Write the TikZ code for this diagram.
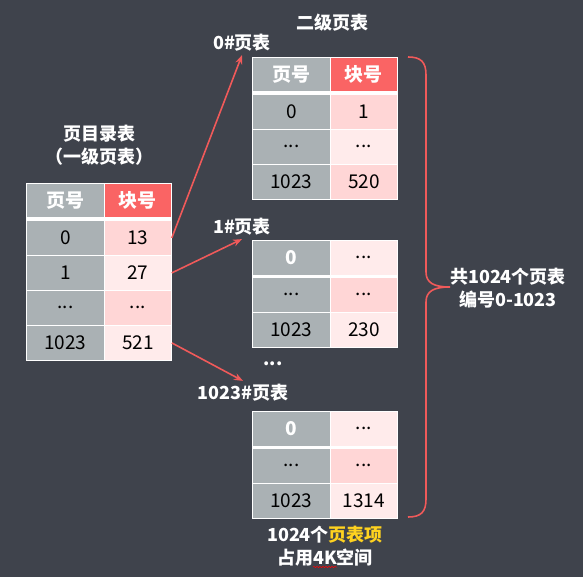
\documentclass[tikz,border=0pt]{standalone}
\usepackage{fontspec}
\setmainfont{Noto Sans CJK SC}
\usepackage{tikz}
\usetikzlibrary{arrows.meta,decorations.pathmorphing}

\definecolor{bgdark}{HTML}{3F434C}
\definecolor{tgray}{HTML}{AAB1B4}
\definecolor{hred}{HTML}{FA6464}
\definecolor{pinkD}{HTML}{FFD6D6}
\definecolor{pinkL}{HTML}{FFEBEB}
\definecolor{linkred}{HTML}{F05A5A}
\definecolor{hilite}{HTML}{FFD21F}

\newcommand{\rowdots}{...}
\newcommand{\pgtext}{\fontsize{18}{23}\selectfont}
\newcommand{\pgcell}{\fontsize{19}{23}\selectfont}

\begin{document}
\begin{tikzpicture}
        [%%%%%%%%%%%%%%%%%%%%%%%%%%%%%%
        x=1pt, y=-1pt,
        cell/.style={draw=white, line width=.8pt, anchor=north west, minimum height=35pt, inner sep=0pt, font=\pgcell, text=black},
        pcell/.style={cell, minimum width=78pt, fill=tgray},
        bcell/.style={cell, minimum width=67pt},
        headcell/.style={text=white, font=\pgcell\bfseries},
        seprule/.style={draw=white, line width=3pt},
        tlabel/.style={text=white, font=\pgtext\bfseries, align=center},
        link/.style={draw=linkred, line width=1.6pt, -{Stealth[length=9pt,width=7pt]}},
        brace/.style={draw=linkred, line width=1.6pt},
        ]%%%%%%%%%%%%%%%%%%%%%%%%%%%%%%
        \path[fill=bgdark, use as bounding box] (0,0) rectangle (583,577);
        % Page directory (first level)
        \node[tlabel] (dir-title) at (99,145) {页目录表\\（一级页表）};
        \node[pcell, headcell] (dir-a0) at (26,183) {页号};
        \node[bcell, headcell, fill=hred] (dir-b0) at (104,183) {块号};
        \foreach \p/\b/\c [count=\i] in {0/13/pinkD, 1/27/pinkL, \rowdots/\rowdots/pinkD, 1023/521/pinkL}{
          \node[pcell] (dir-a\i) at (26,185+35*\i) {\p};
          \node[bcell, fill=\c] (dir-b\i) at (104,185+35*\i) {\b};
        }
        \draw[seprule] ([yshift=1pt]dir-a1.north west) -- ([yshift=1pt]dir-b1.north east);
        % Second level: 0# table
        \node[tlabel] (l2-title) at (332,23) {二级页表};
        \node[tlabel] (t0-label) at (242,43) {0\#页表};
        \node[pcell, headcell] (t0-a0) at (252,57) {页号};
        \node[bcell, headcell, fill=hred] (t0-b0) at (330,57) {块号};
        \foreach \p/\b/\c [count=\i] in {0/1/pinkD, \rowdots/\rowdots/pinkL, 1023/520/pinkD}{
          \node[pcell] (t0-a\i) at (252,59+35*\i) {\p};
          \node[bcell, fill=\c] (t0-b\i) at (330,59+35*\i) {\b};
        }
        \draw[seprule] ([yshift=1pt]t0-a1.north west) -- ([yshift=1pt]t0-b1.north east);
        % 1# table
        \node[tlabel] (t1-label) at (242,227) {1\#页表};
        \node[pcell, headcell] (t1-a0) at (252,240) {0};
        \node[bcell, fill=pinkL] (t1-b0) at (330,240) {\rowdots};
        \foreach \p/\b/\c [count=\i] in {\rowdots/\rowdots/pinkD, 1023/230/pinkL}{
          \node[pcell] (t1-a\i) at (252,242+35*\i) {\p};
          \node[bcell, fill=\c] (t1-b\i) at (330,242+35*\i) {\b};
        }
        \draw[seprule] ([yshift=1pt]t1-a1.north west) -- ([yshift=1pt]t1-b1.north east);
        \node[tlabel] (more) at (273,364) {\rowdots};
        % 1023# table
        \node[tlabel] (t2-label) at (243,393) {1023\#页表};
        \node[pcell, headcell] (t2-a0) at (252,411) {0};
        \node[bcell, fill=pinkL] (t2-b0) at (330,411) {\rowdots};
        \foreach \p/\b/\c [count=\i] in {\rowdots/\rowdots/pinkD, 1023/1314/pinkL}{
          \node[pcell] (t2-a\i) at (252,413+35*\i) {\p};
          \node[bcell, fill=\c] (t2-b\i) at (330,413+35*\i) {\b};
        }
        \draw[seprule] ([yshift=1pt]t2-a1.north west) -- ([yshift=1pt]t2-b1.north east);
        \node[tlabel] (sum-label) at (325,546) {1024个\textcolor{hilite}{页表项}\\占用4K空间};
        \draw[red, line width=.5pt, decorate, decoration={snake, amplitude=.7pt, segment length=3pt}] (313,567) -- (337,567);
        % Links
        \draw[link] (dir-b1.east) -- (t0-label.south);
        \draw[link] (dir-b2.east) -- (t1-label.south);
        \draw[link] (dir-b4.east) -- (t2-label.north);
        % Brace
        \coordinate (br-top) at (408,57);
        \coordinate (br-tip) at (450,287);
        \coordinate (br-bot) at (408,517);
        \draw[brace] (br-top) .. controls (421,57) and (426,62) .. (426,75) -- (426,272)
          .. controls (426,283) and (434,287) .. (br-tip)
          .. controls (434,287) and (426,291) .. (426,302) -- (426,499)
          .. controls (426,512) and (421,517) .. (br-bot);
        \node[tlabel] (br-label) at (508,288) {共1024个页表\\编号0-1023};
      \end{tikzpicture}
\end{document}
